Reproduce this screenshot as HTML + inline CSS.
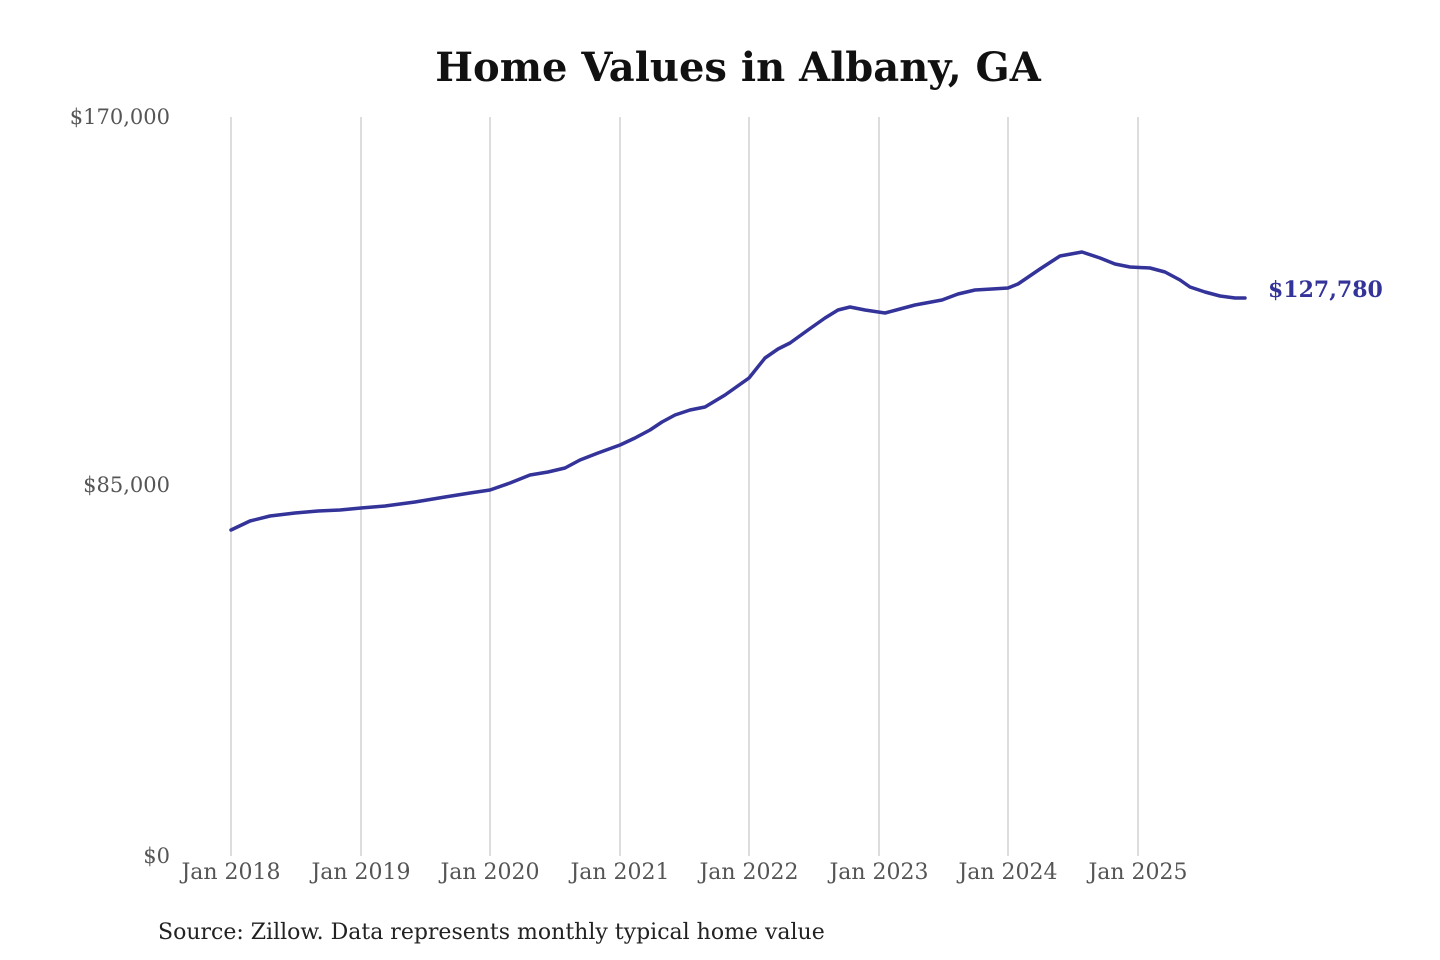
<!DOCTYPE html>
<html><head><meta charset="utf-8"><style>
html,body{margin:0;padding:0;background:#fff;width:1440px;height:960px;overflow:hidden}
</style></head><body>
<svg width="1440" height="960" xmlns="http://www.w3.org/2000/svg" font-family="'DejaVu Serif',serif">
<text x="738" y="81" text-anchor="middle" font-size="40" font-weight="bold" fill="#111">Home Values in Albany, GA</text>
<g stroke="#bbb" stroke-width="1">
<line x1="231" y1="117" x2="231" y2="856"/><line x1="361" y1="117" x2="361" y2="856"/>
<line x1="490" y1="117" x2="490" y2="856"/><line x1="620" y1="117" x2="620" y2="856"/>
<line x1="749" y1="117" x2="749" y2="856"/><line x1="879" y1="117" x2="879" y2="856"/>
<line x1="1008" y1="117" x2="1008" y2="856"/><line x1="1138" y1="117" x2="1138" y2="856"/>
</g>
<g font-size="21" fill="#555">
<text x="170" y="124" text-anchor="end">$170,000</text>
<text x="170" y="492" text-anchor="end">$85,000</text>
<text x="170" y="863" text-anchor="end">$0</text>
<g text-anchor="middle" font-size="22">
<text x="231" y="879">Jan 2018</text><text x="361" y="879">Jan 2019</text>
<text x="490" y="879">Jan 2020</text><text x="620" y="879">Jan 2021</text>
<text x="749" y="879">Jan 2022</text><text x="879" y="879">Jan 2023</text>
<text x="1008" y="879">Jan 2024</text><text x="1138" y="879">Jan 2025</text>
</g></g>
<polyline fill="none" stroke="#333399" stroke-width="3.5" stroke-linejoin="round" stroke-linecap="round" points="231,530 250,521 270,516 295,513 318,511 340,510 361,508 385,506 415,502 445,497 470,493 490,490 510,483 530,475 548,472 565,468 580,460 598,453 620,445 635,438 650,430 662,422 675,415 690,410 705,407 725,395 749,378 765,358 778,349 790,343 808,330 825,318 838,310 850,307 865,310 885,313 900,309 915,305 942,300 958,294 975,290 992,289 1008,288 1018,284 1040,269 1060,256 1082,252 1100,258 1115,264 1130,267 1150,268 1165,272 1180,280 1190,287 1205,292 1220,296 1235,298 1245,298"/>
<text x="1268" y="297" font-size="22" font-weight="bold" fill="#333399">$127,780</text>
<text x="158" y="939" font-size="22" fill="#222">Source: Zillow. Data represents monthly typical home value</text>
</svg>
</body></html>
